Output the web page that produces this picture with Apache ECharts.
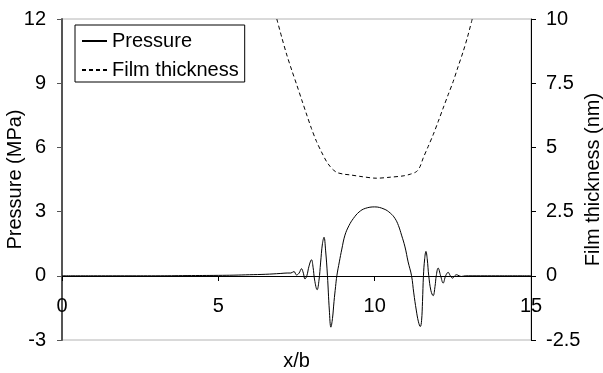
<!DOCTYPE html>
<html><head><meta charset="utf-8">
<script src="https://cdn.jsdelivr.net/npm/echarts@6/dist/echarts.min.js"></script>
<style>html,body{margin:0;padding:0;background:#fff}#c{width:603px;height:373px}</style>
</head><body><div id="c"></div>
<script>
const seriesNames = ['Pressure', 'Film thickness'];
const axisNames = ['x/b', 'Pressure (MPa)', 'Film thickness (nm)'];

const pressureX = [0,1,2,3,4,5,5.5,6,6.5,7.0,7.2,7.32,7.42,7.50,7.58,7.66,7.72,7.77,7.83,7.90,7.98,8.03,8.08,8.16,8.22,8.27,8.33,8.38,8.43,8.49,8.55,8.60,8.65,8.70,8.75,8.79,8.87,8.95,9.05,9.18,9.32,9.5,9.7,10.0,10.3,10.5,10.65,10.76,10.86,10.97,11.07,11.18,11.25,11.33,11.40,11.46,11.50,11.53,11.56,11.60,11.64,11.68,11.73,11.80,11.87,11.93,11.97,12.03,12.11,12.19,12.27,12.35,12.42,12.49,12.56,12.62,12.70,12.78,12.90,13,14,15];
const pressureY = [0,0,0,0,0.01,0.02,0.03,0.05,0.07,0.11,0.13,0.13,0.2,0.04,0.12,0.33,0.12,-0.15,0,0.45,0.75,0.4,-0.2,-0.65,-0.2,0.6,1.5,1.8,1.2,0,-1.6,-2.4,-2.0,-1.2,-0.5,0,0.65,1.25,1.9,2.35,2.68,2.98,3.15,3.22,3.12,2.93,2.68,2.35,1.9,1.35,0.65,0,-0.8,-1.6,-2.15,-2.37,-2.1,-1.2,0,0.8,1.14,0.8,0,-0.7,-0.93,-0.5,0,0.36,0,-0.34,0,0.16,0,-0.11,0,0.05,0,-0.03,0,0,0,0];

const filmX = [6.87,7.03,7.19,7.35,7.51,7.67,7.83,7.98,8.14,8.30,8.46,8.58,8.68,8.80,9.0,9.21,9.6,10.06,10.5,10.91,11.15,11.34,11.45,11.55,11.71,11.87,12.03,12.19,12.35,12.51,12.67,12.83,12.97,13.12];
const filmY = [10,9.28,8.6,8.0,7.43,6.84,6.26,5.73,5.23,4.82,4.45,4.25,4.12,4.02,3.96,3.93,3.86,3.80,3.84,3.89,3.96,4.06,4.25,4.58,5.03,5.49,6.0,6.53,7.05,7.56,8.15,8.73,9.3,10];

const FONT = "'Liberation Sans', Arial, sans-serif";
const chart = echarts.init(document.getElementById('c'), null, {renderer: 'canvas'});
const txt = {fontSize: 20, color: '#000', fontFamily: FONT};

chart.setOption({
  animation: false,
  backgroundColor: '#fff',
  textStyle: {fontFamily: FONT},
  grid: {left: 62, right: 72, top: 19, bottom: 33, show: true, borderColor: '#b4b4b4', borderWidth: 1,
         containLabel: false, outerBoundsMode: 'none'},
  legend: {
    data: seriesNames, orient: 'vertical', left: 75, top: 25,
    itemWidth: 25, itemHeight: 18, itemGap: 9,
    padding: [6, 6, 2, 6],
    borderColor: '#000', borderWidth: 1, backgroundColor: '#fff', borderRadius: 0,
    itemStyle: {opacity: 0},
    textStyle: txt
  },
  xAxis: {
    type: 'value', min: 0, max: 15, interval: 5, position: 'bottom', offset: -64,
    name: axisNames[0], nameLocation: 'middle', nameGap: 75, nameTextStyle: txt, nameMoveOverlap: false,
    axisLine: {onZero: false, lineStyle: {color: '#000', width: 1}},
    axisTick: {show: true, length: 5, lineStyle: {color: '#000'}},
    axisLabel: Object.assign({margin: 20}, txt),
    splitLine: {show: false}
  },
  yAxis: [{
    type: 'value', min: -3, max: 12, interval: 3, position: 'left',
    name: axisNames[1], nameLocation: 'middle', nameGap: 37, nameTextStyle: txt, nameMoveOverlap: false,
    axisLine: {show: true, onZero: false, lineStyle: {color: '#555', width: 2}},
    axisTick: {show: true, length: 5, lineStyle: {color: '#555'}},
    axisLabel: Object.assign({margin: 16}, txt),
    splitLine: {show: false}
  }, {
    type: 'value', min: -2.5, max: 10, interval: 2.5, position: 'right',
    name: axisNames[2], nameLocation: 'middle', nameGap: 52, nameTextStyle: txt, nameMoveOverlap: false,
    axisLine: {show: true, onZero: false, lineStyle: {color: '#000', width: 1}},
    axisTick: {show: true, length: 5, lineStyle: {color: '#000'}},
    axisLabel: Object.assign({margin: 15}, txt),
    splitLine: {show: false}
  }],
  series: [{
    name: seriesNames[0], type: 'line', yAxisIndex: 0,
    data: pressureX.map((x, i) => [x, pressureY[i]]),
    showSymbol: false, symbol: 'none', smooth: 0.4,
    lineStyle: {color: '#000', width: 1}, itemStyle: {color: '#000'}
  }, {
    name: seriesNames[1], type: 'line', yAxisIndex: 1,
    data: filmX.map((x, i) => [x, filmY[i]]),
    showSymbol: false, symbol: 'none', smooth: 0.3,
    lineStyle: {color: '#000', width: 1, type: [4, 3]}, itemStyle: {color: '#000'}
  }]
});
</script></body></html>
